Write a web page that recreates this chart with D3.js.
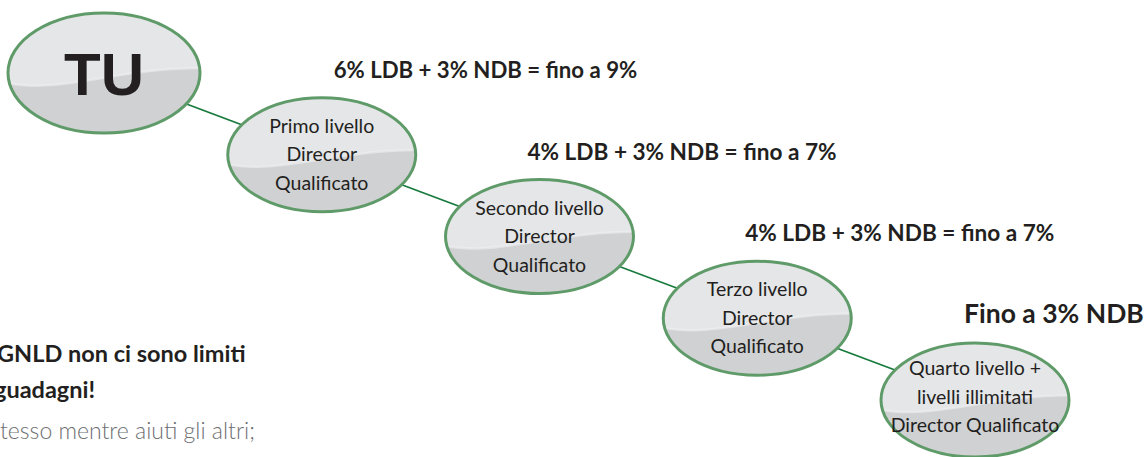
<!DOCTYPE html>
<html>
<head>
<meta charset="utf-8">
<script src="https://cdn.jsdelivr.net/npm/d3@7"></script>
<style>
  html, body { margin: 0; padding: 0; background: #fff; }
  svg { display: block; }
</style>
</head>
<body>
<div id="chart"></div>
<script>
// levels of the diagram, 0 = you
const levels = [0, 1, 2, 3, 4];
const nodeLabels = [
  ['TU'],
  ['Primo livello', 'Director', 'Qualificato'],
  ['Secondo livello', 'Director', 'Qualificato'],
  ['Terzo livello', 'Director', 'Qualificato'],
  ['Quarto livello +', 'livelli illimitati', 'Director Qualificato']
];
const rateLabels = [
  null,
  '6% LDB + 3% NDB = fino a 9%',
  '4% LDB + 3% NDB = fino a 7%',
  '4% LDB + 3% NDB = fino a 7%',
  'Fino a 3% NDB'
];
const sideTitle = ['GNLD non ci sono limiti', 'guadagni!'];
const sideBody = ['tesso mentre aiuti gli altri;'];

const width = 1147, height = 457;
const FONT = 'Lato, "Open Sans", sans-serif';

const svg = d3.select('#chart').append('svg')
  .attr('width', width)
  .attr('height', height);

const x = d3.scaleLinear().domain([0, 4]).range([104, 975]);
const y = d3.scaleLinear().domain([0, 4]).range([73, 400]);

const rx = d => d === 0 ? 96 : 94;
const ry = d => d === 0 ? 60 : 57;

// connectors (centre to centre, under the bubbles)
svg.append('g')
  .selectAll('line')
  .data(d3.pairs(levels))
  .join('line')
  .attr('x1', d => x(d[0])).attr('y1', d => y(d[0]))
  .attr('x2', d => x(d[1])).attr('y2', d => y(d[1]))
  .attr('stroke', '#167a3c')
  .attr('stroke-width', 1.6);

const defs = svg.append('defs');
levels.forEach(l => {
  defs.append('clipPath').attr('id', 'clip' + l)
    .append('ellipse')
    .attr('cx', x(l)).attr('cy', y(l))
    .attr('rx', rx(l)).attr('ry', ry(l));
});

const node = svg.append('g')
  .selectAll('g')
  .data(levels)
  .join('g');

node.append('ellipse')
  .attr('cx', d => x(d)).attr('cy', d => y(d))
  .attr('rx', d => rx(d)).attr('ry', d => ry(d))
  .attr('fill', '#d0d1d3');

// lighter upper half with a wavy lower edge
function wave(d) {
  const cx = x(d), cy = y(d), a = rx(d), b = ry(d);
  const p = (u, v) => (cx + u * a) + ',' + (cy + v * b);
  return 'M' + p(-1.1, -1.1) + 'L' + p(-1.1, 0.12) +
    'C' + p(-0.55, 0.42) + ' ' + p(0.15, -0.12) + ' ' + p(1.1, -0.08) +
    'L' + p(1.1, -1.1) + 'Z';
}
function sheen(d) {
  const cx = x(d), cy = y(d), a = rx(d), b = ry(d);
  const p = (u, v) => (cx + u * a) + ',' + (cy + v * b);
  return 'M' + p(-1.1, 0.12) +
    'C' + p(-0.55, 0.42) + ' ' + p(0.15, -0.12) + ' ' + p(1.1, -0.08);
}
node.append('path')
  .attr('d', wave)
  .attr('clip-path', d => 'url(#clip' + d + ')')
  .attr('fill', '#e5e6e8');
node.append('path')
  .attr('d', sheen)
  .attr('clip-path', d => 'url(#clip' + d + ')')
  .attr('fill', 'none')
  .attr('stroke', '#f0f0f1')
  .attr('stroke-width', 2.5)
  .attr('opacity', 0.6);

node.append('ellipse')
  .attr('cx', d => x(d)).attr('cy', d => y(d))
  .attr('rx', d => rx(d)).attr('ry', d => ry(d))
  .attr('fill', 'none')
  .attr('stroke', '#5f9b69')
  .attr('stroke-width', 3);

// bubble texts
node.filter(d => d === 0).append('text')
  .attr('x', d => x(d)).attr('y', d => y(d) + 22)
  .attr('text-anchor', 'middle')
  .attr('font-family', '"Liberation Sans", Arial, sans-serif')
  .attr('font-weight', 'bold')
  .attr('font-size', 60)
  .attr('fill', '#231f20')
  .text(d => nodeLabels[d][0]);

node.filter(d => d > 0).each(function(d) {
  const t = d3.select(this).append('text')
    .attr('text-anchor', 'middle')
    .attr('font-family', FONT)
    .attr('font-weight', 400)
    .attr('font-size', 19.5)
    .attr('fill', '#231f20');
  const top = d === 4 ? -25 : -22;
  nodeLabels[d].forEach((s, i) => {
    t.append('tspan')
      .attr('x', x(d))
      .attr('y', y(d) + top + i * 28.5)
      .text(s);
  });
});

// commission labels above each level
const rateDx = [0, 12, -12, -12, -11];
const rateSize = [0, 22.2, 22.6, 22.6, 26.5];
svg.append('g')
  .selectAll('text')
  .data(levels.filter(l => rateLabels[l]))
  .join('text')
  .attr('x', d => x(d) + rateDx[d])
  .attr('y', d => y(d) - 77)
  .attr('font-family', FONT)
  .attr('font-weight', 'bold')
  .attr('font-size', d => rateSize[d])
  .attr('fill', '#231f20')
  .text(d => rateLabels[d]);

// side note, cut by the left edge as in the source
svg.append('g')
  .selectAll('text')
  .data(sideTitle)
  .join('text')
  .attr('x', (d, i) => i === 0 ? -3 : -6)
  .attr('y', (d, i) => 362 + i * 36)
  .attr('font-family', FONT)
  .attr('font-weight', 'bold')
  .attr('font-size', 23.5)
  .attr('fill', '#231f20')
  .text(d => d);

svg.append('g')
  .selectAll('text')
  .data(sideBody)
  .join('text')
  .attr('x', 0)
  .attr('y', 439)
  .attr('font-family', FONT)
  .attr('font-weight', 300)
  .attr('font-size', 23)
  .attr('fill', '#6d6e71')
  .text(d => d);
</script>
</body>
</html>
